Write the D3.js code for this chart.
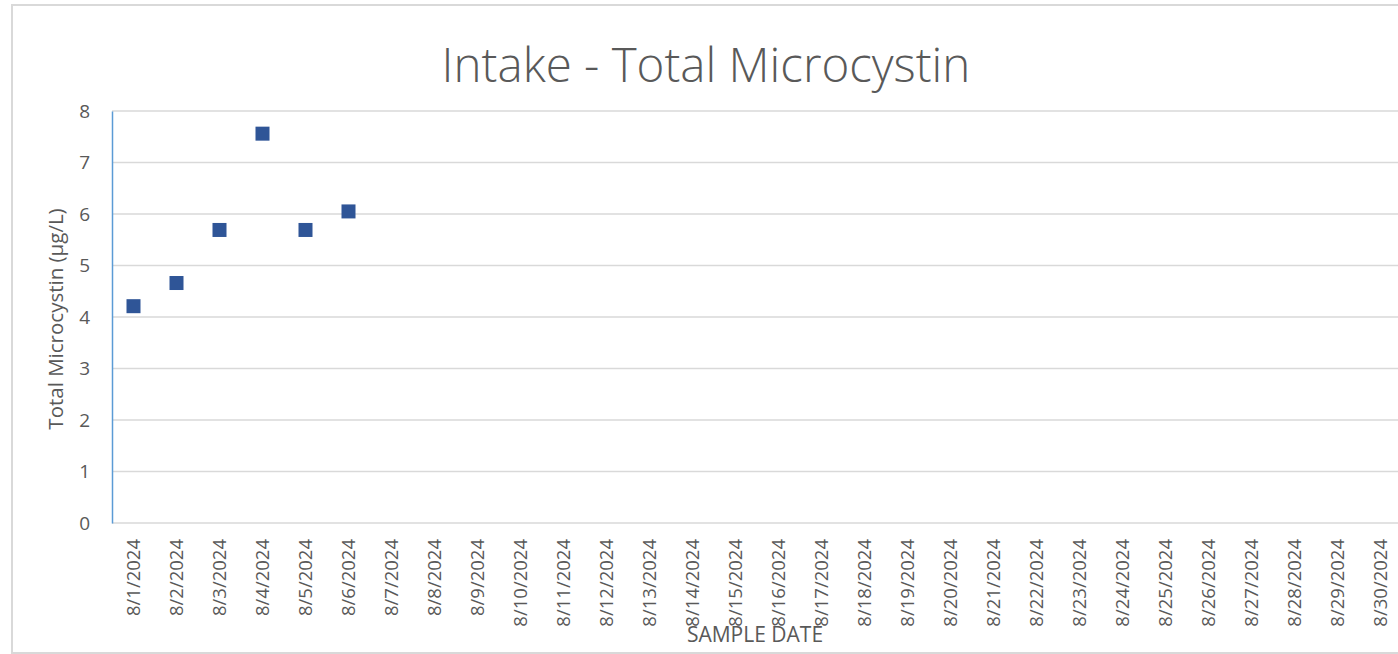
<!DOCTYPE html>
<html><head><meta charset="utf-8">
<script src="https://cdn.jsdelivr.net/npm/d3@7"></script>
<style>body{margin:0;background:#fff;} svg{display:block;}</style>
</head><body>
<script>
const dates = Array.from({length:30}, (_, i) => `8/${i+1}/2024`);
const sampleDates = ["8/1/2024","8/2/2024","8/3/2024","8/4/2024","8/5/2024","8/6/2024"];
const microcystin = [4.21, 4.66, 5.69, 7.56, 5.69, 6.05];
const yTicks = [0,1,2,3,4,5,6,7,8];

(function(){
const W = 1398, H = 654;
const svg = d3.select("body").append("svg").attr("width", W).attr("height", H);
const font = "'Open Sans', sans-serif";
const textCol = "#595959";

svg.append("rect").attr("x", 12).attr("y", 5).attr("width", 1400).attr("height", 648)
  .attr("fill", "#fff").attr("stroke", "#d9d9d9").attr("stroke-width", 2);

const mLeft = 112, mTop = 111, mBottom = 523;
const x = d3.scaleBand().domain(dates).range([mLeft, mLeft + 30*43]);
const y = d3.scaleLinear().domain([0, 8]).range([mBottom, mTop]);

svg.append("g").selectAll("line").data(yTicks).join("line")
  .attr("x1", mLeft).attr("x2", W).attr("y1", d => y(d)).attr("y2", d => y(d))
  .attr("stroke", "#d9d9d9").attr("stroke-width", 1.5);

const yAxis = svg.append("g").attr("transform", `translate(${mLeft},0)`)
  .call(d3.axisLeft(y).tickValues(yTicks).tickSize(0).tickPadding(22));
yAxis.select(".domain").attr("stroke", "#5B9BD5").attr("stroke-width", 1.5);
yAxis.selectAll("text").attr("font-family", font).attr("font-size", 19).attr("fill", textCol);

const xAxis = svg.append("g").attr("transform", `translate(0,${mBottom})`)
  .call(d3.axisBottom(x).tickSize(0));
xAxis.select(".domain").remove();
xAxis.selectAll("text")
  .attr("font-family", font).attr("font-size", 18.5).attr("fill", textCol)
  .attr("transform", "rotate(-90)").attr("text-anchor", "end")
  .attr("x", -16).attr("y", 0).attr("dy", "0.35em");

svg.append("g").selectAll("rect").data(sampleDates.map((d,i)=>({d, v: microcystin[i]}))).join("rect")
  .attr("x", d => x(d.d) + x.bandwidth()/2 - 7)
  .attr("y", d => y(d.v) - 7)
  .attr("width", 14).attr("height", 14)
  .attr("fill", "#2F5597");

svg.append("text").attr("x", 706).attr("y", 82).attr("text-anchor", "middle")
  .attr("font-family", font).attr("font-size", 47.5).attr("font-weight", 300).attr("fill", textCol)
  .text("Intake - Total Microcystin");

svg.append("text").attr("transform", `translate(63,319) rotate(-90)`).attr("text-anchor", "middle")
  .attr("font-family", font).attr("font-size", 20.5).attr("fill", textCol)
  .text("Total Microcystin (µg/L)");

svg.append("text").attr("x", 755).attr("y", 642).attr("text-anchor", "middle")
  .attr("font-family", font).attr("font-size", 21).attr("fill", textCol)
  .text("SAMPLE DATE");
})();
</script>
</body></html>
